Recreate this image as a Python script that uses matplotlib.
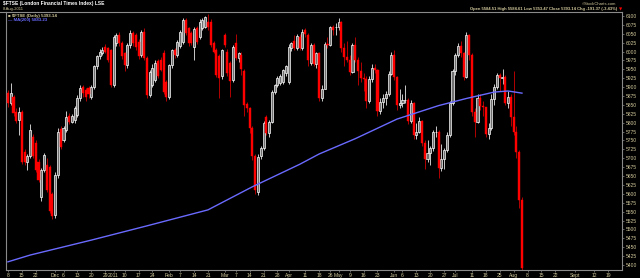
"""
FTSE daily candles with 200-day moving average (StockCharts style)
"""
import numpy as np
import pandas as pd

import matplotlib

matplotlib.use("Agg")
import matplotlib.pyplot as plt  # noqa:E402
from matplotlib.lines import Line2D  # noqa:E402

# LSE closures in the window
UK_HOLIDAYS = [
    "2010-12-27", "2010-12-28", "2011-01-03", "2011-04-22", "2011-04-25",
    "2011-04-29", "2011-05-02", "2011-05-30", "2011-08-29",
]
FIRST_DAY = "2010-11-08"
LAST_AXIS_DAY = "2011-09-30"

# daily OHLC, one value per trading day from FIRST_DAY
opens = [
    5883, 5856, 5872, 5830, 5808, 5831, 5718, 5690, 5705, 5760, 5742, 5690, 5590, 5667, 5682, 5676, 5600,
    5540, 5653, 5782, 5750, 5780, 5819, 5803, 5808, 5822, 5869, 5900, 5892, 5897, 5873, 5901, 5958, 5986,
    5995, 6014, 6009, 6004,
    5906, 6023, 6047, 6023, 5995, 5962, 6019, 6051, 6047, 6028, 5990, 6056, 5982, 5878, 5907, 5920, 5972,
    5976, 5995, 5915,
    5872, 5962, 6004, 5990, 6015, 6028, 6089, 6065, 6051, 6014, 6065, 6042, 6065, 6070, 6084, 6084, 6023,
    6005, 5986, 5930,
    6047, 6000, 5967, 5920, 6025, 5981, 5990, 5945, 5852, 5840, 5784, 5705, 5606, 5705, 5728, 5817, 5770,
    5803, 5887, 5906, 5911, 5915, 5939,
    5915, 6009, 6030, 6009, 6042, 6009, 6060, 6047, 5967, 6019, 5965, 5996, 5870, 5896, 6022, 6018, 6069,
    6068,
    6069, 6082, 6011, 5985, 5976, 5942, 6018, 5976, 5944, 5925, 5923, 5861, 5923, 5955, 5948, 5833, 5858,
    5870, 5881, 5938,
    5990, 5928, 5849, 5855, 5863, 5864, 5805, 5855, 5766, 5774, 5804, 5742, 5698, 5714, 5728, 5773, 5775,
    5674, 5697, 5722, 5766, 5855,
    5946, 5989, 6016, 5997, 5928, 6045, 5990, 5829, 5802, 5868, 5846, 5843, 5769, 5786, 5867, 5900, 5935,
    5925, 5929, 5856, 5873,
    5815, 5774, 5718, 5584,
]
highs = [
    5892, 5912, 5878, 5840, 5845, 5836, 5725, 5712, 5795, 5768, 5750, 5698, 5672, 5715, 5700, 5682, 5606,
    5662, 5786, 5792, 5792, 5832, 5828, 5825, 5846, 5878, 5905, 5906, 5898, 5903, 5906, 5962, 5990, 6006,
    6012, 6020, 6014, 6008,
    6047, 6052, 6055, 6030, 6000, 6025, 6060, 6058, 6052, 6035, 6060, 6066, 5986, 5948, 5965, 5976, 5980,
    5985, 6003, 5920,
    5966, 6008, 6010, 6032, 6060, 6093, 6095, 6070, 6058, 6070, 6072, 6090, 6094, 6100, 6106, 6090, 6030,
    6010, 5992, 6008,
    6052, 6006, 5972, 6018, 6050, 6000, 6000, 5950, 5858, 5845, 5790, 5712, 5712, 5735, 5805, 5822, 5808,
    5892, 5910, 5930, 5936, 5952, 5962,
    6020, 6028, 6047, 6050, 6048, 6062, 6066, 6052, 6024, 6025, 6000, 6000, 5905, 6028, 6040, 6072, 6075,
    6080,
    6095, 6085, 6025, 6030, 5990, 6025, 6040, 5985, 5970, 5940, 5930, 5930, 5965, 5965, 5950, 5870, 5880,
    5890, 5945, 6000,
    6005, 5930, 5895, 5880, 5905, 5870, 5865, 5858, 5800, 5815, 5808, 5750, 5750, 5735, 5780, 5790, 5780,
    5740, 5730, 5775, 5860, 5950,
    5995, 6025, 6030, 6000, 6055, 6050, 5995, 5840, 5880, 5880, 5860, 5845, 5800, 5880, 5910, 5940, 5940,
    5950, 5935, 5890, 5880,
    5945, 5790, 5722, 5590,
]
lows = [
    5845, 5850, 5820, 5798, 5766, 5684, 5680, 5667, 5700, 5700, 5660, 5632, 5580, 5660, 5605, 5545, 5528,
    5532, 5645, 5725, 5745, 5775, 5795, 5798, 5800, 5815, 5862, 5872, 5860, 5870, 5866, 5895, 5950, 5980,
    5990, 5995, 5970, 5900,
    5900, 6015, 6015, 5980, 5945, 5955, 6010, 6015, 6005, 5980, 5985, 5975, 5870, 5872, 5900, 5915, 5925,
    5945, 5880, 5860,
    5866, 5955, 5982, 5985, 6010, 6022, 6045, 6015, 6018, 5976, 6022, 6035, 6060, 6065, 6060, 6012, 5995,
    5928, 5870, 5922,
    6012, 5932, 5873, 5914, 5975, 5970, 5935, 5820, 5830, 5770, 5695, 5600, 5598, 5698, 5722, 5765, 5760,
    5798, 5880, 5900, 5905, 5910, 5932,
    5910, 6002, 6005, 6003, 6003, 6005, 6042, 5960, 5962, 5960, 5955, 5862, 5860, 5896, 6010, 6015, 6045,
    6045,
    6060, 6000, 5960, 5970, 5935, 5940, 5970, 5905, 5915, 5890, 5840, 5855, 5915, 5940, 5820, 5825, 5840,
    5850, 5875, 5935,
    5920, 5835, 5840, 5845, 5855, 5795, 5800, 5755, 5755, 5770, 5735, 5670, 5690, 5680, 5720, 5760, 5645,
    5665, 5670, 5718, 5760, 5850,
    5935, 5985, 5985, 5920, 5925, 5975, 5820, 5760, 5800, 5835, 5820, 5760, 5755, 5780, 5850, 5895, 5890,
    5910, 5850, 5840, 5790,
    5765, 5700, 5560, 5385,
]
closes = [
    5855, 5883, 5827, 5805, 5831, 5690, 5690, 5705, 5780, 5705, 5667, 5640, 5667, 5709, 5611, 5552, 5538,
    5653, 5775, 5733, 5784, 5817, 5803, 5819, 5840, 5869, 5897, 5883, 5873, 5880, 5901, 5958, 5986, 6000,
    6004, 6000, 5976, 5906,
    6040, 6047, 6023, 5986, 5962, 6019, 6051, 6023, 6014, 5986, 6056, 5982, 5878, 5943, 5953, 5967, 5930,
    5948, 5887, 5873,
    5962, 6004, 5990, 6028, 6056, 6089, 6051, 6023, 6023, 6063, 6028, 6084, 6089, 6096, 6070, 6019, 6000,
    5934, 5925, 6004,
    6019, 5939, 5918, 6014, 5981, 5995, 5950, 5850, 5840, 5784, 5705, 5611, 5704, 5728, 5798, 5770, 5803,
    5887, 5906, 5925, 5930, 5948, 5958,
    6014, 6023, 6010, 6044, 6009, 6056, 6050, 5975, 6019, 5965, 5996, 5870, 5896, 6022, 6018, 6069, 6060,
    6069,
    6082, 6011, 5985, 5976, 5942, 6018, 5976, 5944, 5925, 5923, 5861, 5923, 5955, 5948, 5833, 5858, 5870,
    5881, 5938, 5990,
    5928, 5849, 5855, 5863, 5864, 5805, 5855, 5766, 5774, 5804, 5742, 5698, 5714, 5728, 5773, 5775, 5674,
    5697, 5722, 5766, 5855, 5946,
    5989, 6016, 5997, 5928, 6045, 5990, 5829, 5802, 5868, 5846, 5843, 5769, 5786, 5867, 5900, 5935, 5925,
    5929, 5856, 5873, 5815,
    5774, 5718, 5584, 5393,
]

# 200-day moving average, read at a handful of dates
ma_dates = [
    "2010-11-08", "2010-11-18", "2010-12-20", "2011-01-20", "2011-02-21", "2011-03-15", "2011-04-07",
    "2011-04-18", "2011-05-11", "2011-06-02", "2011-06-23", "2011-07-07", "2011-07-21", "2011-07-28",
    "2011-08-04",
]
ma_values = [5409, 5428, 5470, 5510, 5555, 5620, 5683, 5712, 5755, 5810, 5848, 5868, 5886, 5889, 5883]

tick_dates = [
    "2010-11-08", "2010-11-15", "2010-11-22", "2010-12-01", "2010-12-06", "2010-12-13", "2010-12-20",
    "2010-12-29", "2011-01-04", "2011-01-10", "2011-01-17", "2011-01-24", "2011-02-01", "2011-02-07",
    "2011-02-14", "2011-02-21", "2011-03-01", "2011-03-07", "2011-03-14", "2011-03-21", "2011-03-28",
    "2011-04-01", "2011-04-11", "2011-04-18", "2011-04-26", "2011-05-03", "2011-05-09", "2011-05-16",
    "2011-05-23", "2011-06-01", "2011-06-06", "2011-06-13", "2011-06-20", "2011-06-27", "2011-07-01",
    "2011-07-11", "2011-07-18", "2011-07-25", "2011-08-01", "2011-08-08", "2011-08-15", "2011-08-22",
    "2011-09-01", "2011-09-12", "2011-09-19",
]
tick_labels = [
    "8", "15", "22", "Dec", "6", "13", "20", "29", "2011", "10", "17", "24", "Feb", "7", "14", "21",
    "Mar", "7", "14", "21", "28", "Apr", "11", "18", "26", "May", "9", "16", "23", "Jun", "6", "13",
    "20", "27", "Jul", "11", "18", "25", "Aug", "8", "15", "22", "Sept", "12", "19",
]

BG = "black"
FRAME = "#8a8a8a"
TEXT = "#d2c99c"
DOWN = "#ff0000"
MA_COLOR = "#6a6aff"
FONT = ["Liberation Sans", "DejaVu Sans"]


def trading_days(start, end):
    """
    Business days without the LSE holidays
    """
    days = pd.bdate_range(start, end)
    return days[~days.isin(pd.to_datetime(UK_HOLIDAYS))]


def plot_candles(ax, x):
    o, h, l, c = (np.array(v, dtype=float) for v in (opens, highs, lows, closes))
    up = c >= o

    ax.vlines(x[up], l[up], h[up], color="#e8e8e8", linewidth=0.6, zorder=2)
    ax.vlines(x[~up], l[~up], h[~up], color="#d00000", linewidth=0.6, zorder=2)

    bottom = np.minimum(o, c)
    height = np.maximum(np.abs(c - o), 1.5)
    ax.bar(x[up], height[up], bottom=bottom[up], width=0.74, facecolor="#707070",
           edgecolor="white", linewidth=0.5, zorder=3)
    ax.bar(x[~up], height[~up], bottom=bottom[~up], width=0.74, facecolor=DOWN,
           edgecolor=DOWN, linewidth=0.3, zorder=3)


def main():
    plt.rcParams["font.family"] = FONT

    days = trading_days(FIRST_DAY, LAST_AXIS_DAY)
    pos = {d: i for i, d in enumerate(days)}

    x = np.arange(len(closes))
    ma_x = [pos[pd.Timestamp(d)] for d in ma_dates]
    tick_x = [pos[pd.Timestamp(d)] for d in tick_dates]

    fig = plt.figure(figsize=(6.4, 2.78), dpi=100, facecolor=BG)
    ax = fig.add_axes([6 / 640, 8 / 278, 616 / 640, 258 / 278], facecolor=BG)

    plot_candles(ax, x)
    ax.plot(ma_x, ma_values, color=MA_COLOR, linewidth=1.0, zorder=4)

    ax.set_xlim(-0.7, 221)
    ax.set_ylim(5386, 6111)

    ax.yaxis.tick_right()
    ax.set_yticks(np.arange(5400, 6101, 25))
    ax.tick_params(axis="y", colors=FRAME, labelcolor=TEXT, labelsize=3.6, length=1.5,
                   width=0.5, pad=1.0)
    ax.set_xticks(tick_x)
    ax.set_xticklabels(tick_labels)
    ax.tick_params(axis="x", colors=FRAME, labelcolor=TEXT, labelsize=3.6, length=1.5,
                   width=0.5, pad=0.6)
    for spine in ax.spines.values():
        spine.set_color(FRAME)
        spine.set_linewidth(0.8)

    # top rule runs across the header
    fig.add_artist(Line2D([0, 6 / 640], [266 / 278, 266 / 278], color=FRAME, linewidth=0.8))

    # header texts
    fig.text(3 / 640, 1 - 4 / 278, "$FTSE (London Financial Times Index) LSE", color="white",
             fontsize=3.5, fontweight="bold", va="center", ha="left")
    fig.text(3 / 640, 1 - 9.3 / 278, "8-Aug-2011", color=TEXT, fontsize=3.0,
             va="center", ha="left")
    fig.text(616 / 640, 1 - 4 / 278, "\u00a9StockCharts.com", color=TEXT, fontsize=3.0,
             va="center", ha="right")
    fig.text(617 / 640, 1 - 9.3 / 278,
             "Open 5584.51 High 5584.61 Low 5353.47 Close 5393.14 Chg -191.37 (-3.43%)",
             color=TEXT, fontsize=3.0, fontweight="bold", va="center", ha="right")
    fig.text(621 / 640, 1 - 9.6 / 278, "\u25bc", color=DOWN, fontsize=3.0,
             va="center", ha="center", family="DejaVu Sans")

    # legend in the plot corner
    fig.text(8 / 640, 1 - 15.5 / 278, "\u25a0 $FTSE (Daily) 5393.14", color=TEXT,
             fontsize=3.2, fontweight="bold", va="center", ha="left")
    fig.text(8 / 640, 1 - 20 / 278, "\u2014 MA(200) 5883.23", color=MA_COLOR,
             fontsize=3.2, fontweight="bold", va="center", ha="left")

    fig.savefig("out.png", dpi=100, facecolor=BG)
    plt.close(fig)


if __name__ == "__main__":
    main()
